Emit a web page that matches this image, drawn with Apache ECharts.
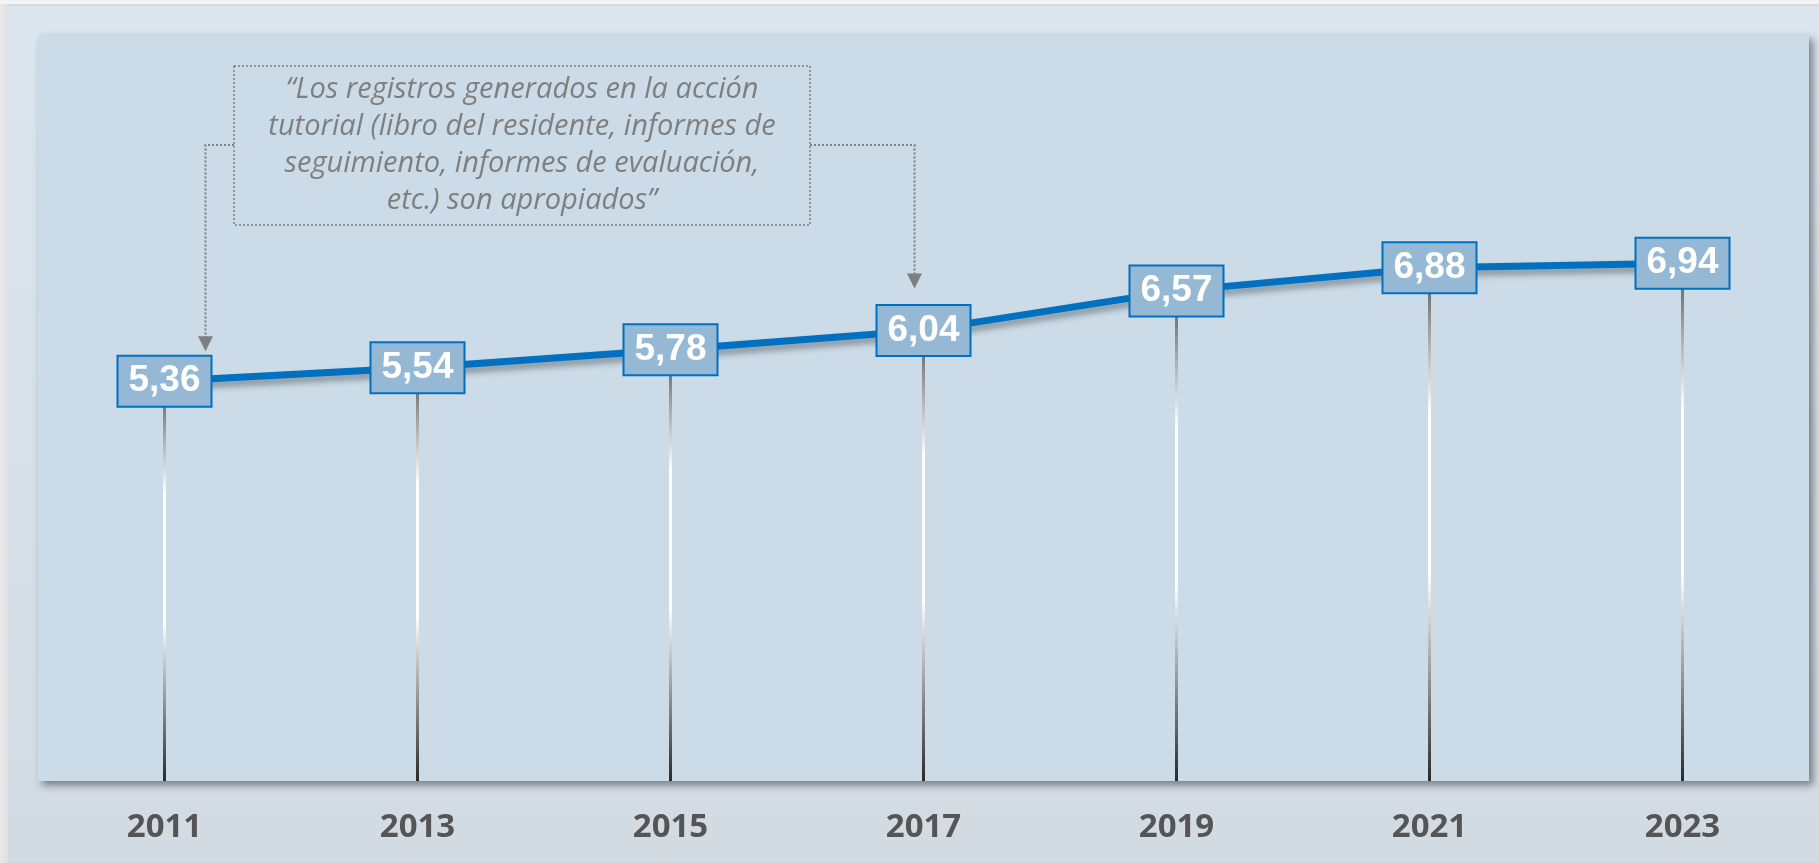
<!DOCTYPE html>
<html><head><meta charset="utf-8">
<script src="https://cdn.jsdelivr.net/npm/echarts/dist/echarts.min.js"></script>
<style>
html,body{margin:0;padding:0;width:1819px;height:863px;overflow:hidden;background:linear-gradient(90deg,#e9e9e9,#e0e0e0 8px);}
#top{position:absolute;left:0;top:0;width:1819px;height:4px;background:#f4f4f4;}
#panel{position:absolute;left:8px;top:5px;width:1811px;height:858px;background:linear-gradient(#dce6ef,#d2dbe2);border-top:1px solid #d3d7da;}
#chart{position:absolute;left:0;top:0;width:1819px;height:863px;}
</style></head>
<body><div id="top"></div><div id="panel"></div><div id="chart"></div>
<script>
const years = ['2011', '2013', '2015', '2017', '2019', '2021', '2023'];
const values = [5.36, 5.54, 5.78, 6.04, 6.57, 6.88, 6.94];
const quoteLines = [
  '“Los registros generados en la acción',
  'tutorial (libro del residente, informes de',
  'seguimiento, informes de evaluación,',
  'etc.) son apropiados”'
];

const chart = echarts.init(document.getElementById('chart'));
const option = {
  backgroundColor: 'transparent',
  animation: false,
  grid: {
    left: 38, right: 10, top: 35, bottom: 82,
    show: true, backgroundColor: '#cbdbe7', borderWidth: 0,
    shadowColor: 'rgba(0,0,0,0.45)', shadowBlur: 8, shadowOffsetX: 4, shadowOffsetY: 4
  },
  xAxis: {
    type: 'category', data: years, boundaryGap: true,
    axisLine: { show: false }, axisTick: { show: false }, splitLine: { show: false },
    axisLabel: { margin: 30, fontFamily: '"Open Sans"', fontWeight: 'bold', fontSize: 33, color: '#555555' }
  },
  yAxis: { type: 'value', min: 0, max: 10, show: false, splitLine: { show: false } },
  series: [
    {
      type: 'bar', data: values, barWidth: 3, silent: true, z: 1,
      itemStyle: {
        color: new echarts.graphic.LinearGradient(0, 0, 0, 1, [
          { offset: 0, color: '#555555' },
          { offset: 0.28, color: '#ffffff' },
          { offset: 0.6, color: '#ffffff' },
          { offset: 1, color: '#2a2a2a' }
        ])
      }
    },
    {
      type: 'line', data: values, z: 5,
      symbol: 'circle', symbolSize: 2,
      itemStyle: { color: '#0070c0' },
      lineStyle: { color: '#0070c0', width: 7, shadowColor: 'rgba(0,0,0,0.35)', shadowBlur: 6, shadowOffsetY: 5, shadowOffsetX: 2 },
      label: {
        show: true, position: 'inside',
        formatter: p => p.value.toFixed(2).replace('.', ','),
        fontFamily: '"Liberation Sans", Arial', fontWeight: 'bold', fontSize: 37, lineHeight: 37,
        color: '#ffffff', backgroundColor: '#95b8d5', borderColor: '#0070c0', borderWidth: 2,
        padding: [6, 10, 6, 10]
      }
    }
  ]
};
chart.setOption(option);

const p0 = chart.convertToPixel({ seriesIndex: 1 }, [0, values[0]]);
const p3 = chart.convertToPixel({ seriesIndex: 1 }, [3, values[3]]);
const box = { x: 234, y: 66, w: 576, h: 159 };
const cy = 145;
const lx = p0[0] + 41, ltip = p0[1] - 30;
const rx = p3[0] - 9, rtip = p3[1] - 42;
const dashStyle = { stroke: '#7f7f7f', lineWidth: 2, lineDash: [2, 2], fill: null };
chart.setOption({
  graphic: [
    { type: 'rect', z: 100, shape: { x: box.x, y: box.y, width: box.w, height: box.h }, style: Object.assign({}, dashStyle, { lineWidth: 1.5 }) },
    { type: 'polyline', z: 100, shape: { points: [[box.x, cy], [lx, cy], [lx, ltip - 14]] }, style: dashStyle },
    { type: 'polygon', z: 100, shape: { points: [[lx - 7.5, ltip - 15], [lx + 7.5, ltip - 15], [lx, ltip]] }, style: { fill: '#7f7f7f' } },
    { type: 'polyline', z: 100, shape: { points: [[box.x + box.w, cy], [rx, cy], [rx, rtip - 14]] }, style: dashStyle },
    { type: 'polygon', z: 100, shape: { points: [[rx - 7.5, rtip - 15], [rx + 7.5, rtip - 15], [rx, rtip]] }, style: { fill: '#7f7f7f' } },
    {
      type: 'text', z: 100, x: box.x + box.w / 2, y: box.y + box.h / 2,
      style: {
        text: quoteLines.join('\n'), fill: '#7f7f7f',
        font: 'italic 29px "Open Sans"', lineHeight: 37,
        align: 'center', verticalAlign: 'middle', textAlign: 'center', textVerticalAlign: 'middle'
      }
    }
  ]
});
</script>
</body></html>
